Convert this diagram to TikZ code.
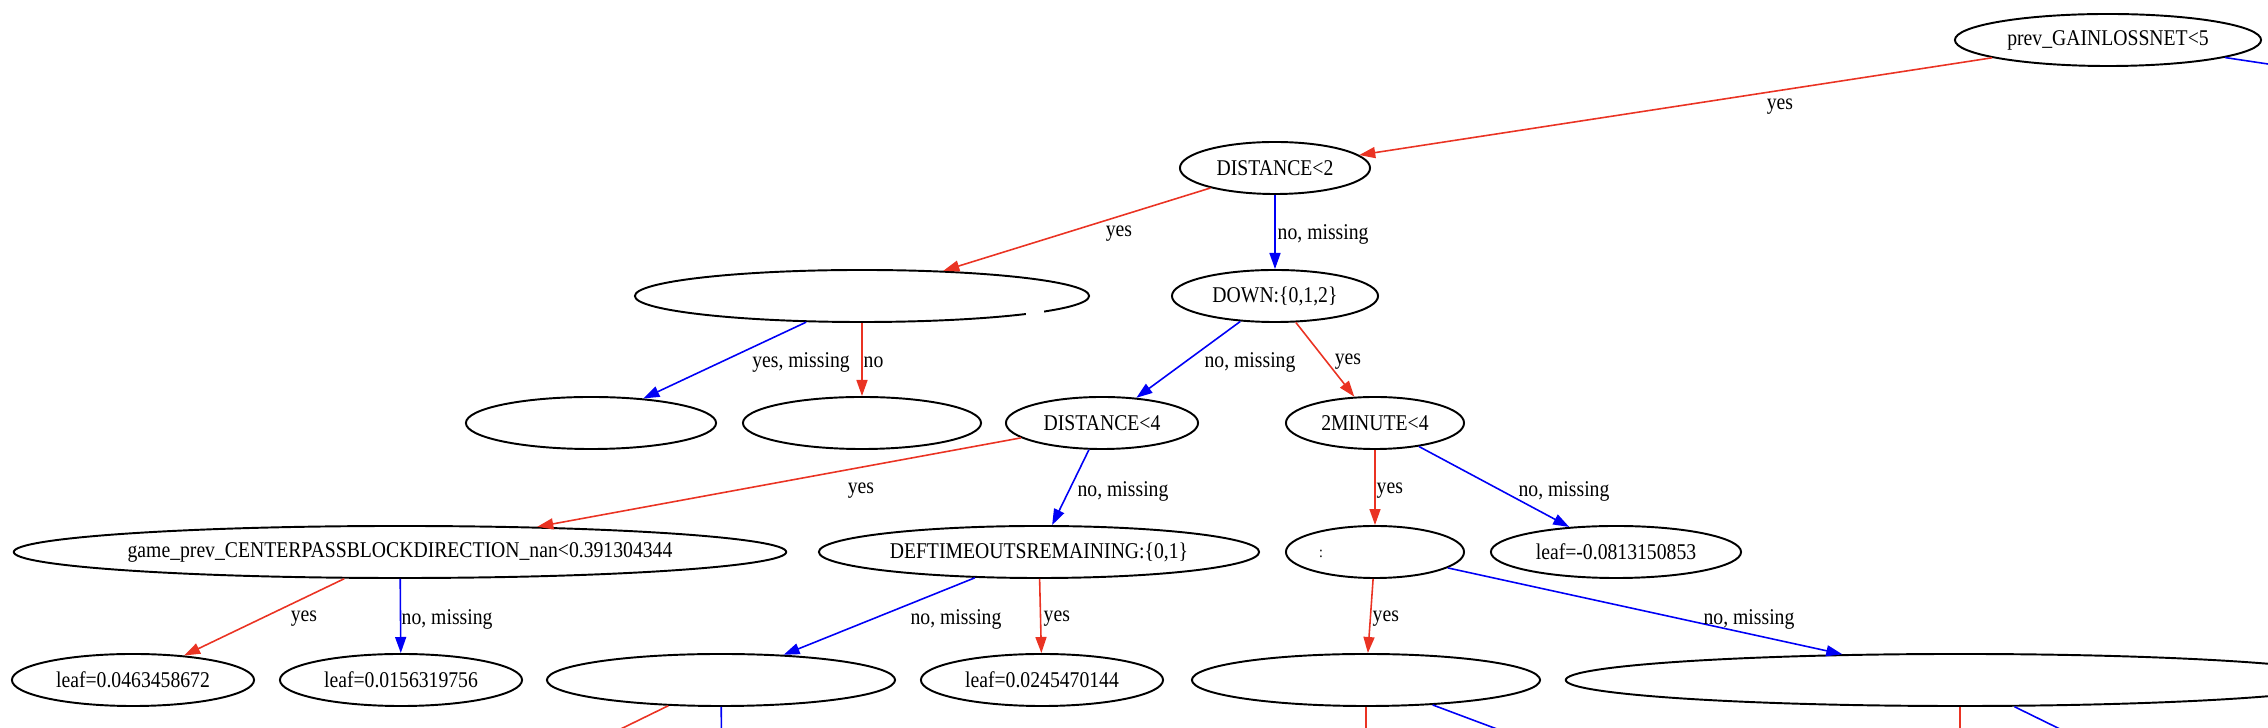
\documentclass[tikz,border=0pt]{standalone}
\usepackage{fontspec}
\setmainfont{Liberation Serif}[FakeStretch=0.875]
\usepackage{xcolor}
\usetikzlibrary{arrows.meta, shapes.geometric}
\definecolor{yesred}{RGB}{234,51,35}
\definecolor{noblue}{RGB}{0,0,245}

\begin{document}
\begin{tikzpicture}[x=0.01cm, y=-0.01cm, >={Triangle[length=1.6mm, width=1.1mm]},
    font=\fontsize{6.4}{7.6}\selectfont,
    split/.style={draw, ellipse, line width=0.55pt, inner sep=0pt, minimum height=0.52cm},
    yesedge/.style={->, yesred, line width=0.45pt},
    noedge/.style={->, noblue, line width=0.45pt},
    lbl/.style={inner sep=0pt}]

\useasboundingbox (0,0) rectangle (2268,728);
\clip (0,0) rectangle (2268,728);

% ── Level 0: root ────────────────────────────────────────────────
\node[split, minimum width=3.06cm] (root) at (2108,40) {prev\_GAINLOSSNET<5};

% ── Level 1 ──────────────────────────────────────────────────────
\node[split, minimum width=1.90cm] (dist2) at (1275,168) {DISTANCE<2};
\coordinate (rootno) at (2961,168);

\draw[yesedge] (root) -- (dist2);
\draw[noedge] (root) -- (rootno);
\node[lbl] (l01) at (1780,107) {yes};

% ── Level 2 ──────────────────────────────────────────────────────
\node[split, minimum width=4.54cm] (blankA) at (862,296) {};
\node[split, minimum width=2.06cm] (down) at (1275,296) {DOWN:\{0,1,2\}};
\fill[white] (1026,307) rectangle (1044,319);

\draw[yesedge] (dist2) -- (blankA);
\draw[noedge] (dist2) -- (down);
\node[lbl] (l11) at (1119,234) {yes};
\node[lbl, anchor=west] (l12) at (1277,234) {no, missing};

% ── Level 3 ──────────────────────────────────────────────────────
\node[split, minimum width=2.50cm] (blankB) at (591,423) {};
\node[split, minimum width=2.38cm] (blankC) at (862,423) {};
\node[split, minimum width=1.92cm] (dist4) at (1102,423) {DISTANCE<4};
\node[split, minimum width=1.78cm] (twomin) at (1375,423) {2MINUTE<4};

\draw[noedge] (blankA) -- (blankB);
\draw[yesedge] (blankA) -- (blankC);
\draw[noedge] (down) -- (dist4);
\draw[yesedge] (down) -- (twomin);
\node[lbl] (l21) at (801,362) {yes, missing};
\node[lbl, anchor=west] (l22) at (863,362) {no};
\node[lbl] (l23) at (1250,362) {no, missing};
\node[lbl] (l24) at (1348,362) {yes};

% ── Level 4 ──────────────────────────────────────────────────────
\node[split, minimum width=7.72cm] (game) at (400,552) {game\_prev\_CENTERPASSBLOCKDIRECTION\_nan<0.391304344};
\node[split, minimum width=4.40cm] (deftime) at (1039,552) {DEFTIMEOUTSREMAINING:\{0,1\}};
\node[split, minimum width=1.78cm] (colon) at (1375,552) {};
\node[lbl, font=\fontsize{4.5}{5}\selectfont] (colontxt) at (1321,554) {:};
\node[split, minimum width=2.50cm] (leafneg) at (1616,552) {leaf=-0.0813150853};

\draw[yesedge] (dist4) -- (game);
\draw[noedge] (dist4) -- (deftime);
\draw[yesedge] (twomin) -- (colon);
\draw[noedge] (twomin) -- (leafneg);
\node[lbl] (l31) at (861,491) {yes};
\node[lbl] (l32) at (1123,491) {no, missing};
\node[lbl, anchor=west] (l33) at (1376,491) {yes};
\node[lbl] (l34) at (1564,491) {no, missing};

% ── Level 5 ──────────────────────────────────────────────────────
\node[split, minimum width=2.42cm] (leafa) at (133,680) {leaf=0.0463458672};
\node[split, minimum width=2.42cm] (leafb) at (401,680) {leaf=0.0156319756};
\node[split, minimum width=3.48cm] (blankD) at (721,680) {};
\node[split, minimum width=2.42cm] (leafc) at (1042,680) {leaf=0.0245470144};
\node[split, minimum width=3.48cm] (blankE) at (1366,680) {};
\node[split, minimum width=7.88cm] (blankF) at (1960,680) {};

\draw[yesedge] (game) -- (leafa);
\draw[noedge] (game) -- (leafb);
\draw[noedge] (deftime) -- (blankD);
\draw[yesedge] (deftime) -- (leafc);
\draw[yesedge] (colon) -- (blankE);
\draw[noedge] (colon) -- (blankF);
\node[lbl] (l41) at (304,619) {yes};
\node[lbl, anchor=west] (l42) at (401,619) {no, missing};
\node[lbl] (l43) at (956,619) {no, missing};
\node[lbl, anchor=west] (l44) at (1043,619) {yes};
\node[lbl, anchor=west] (l45) at (1372,619) {yes};
\node[lbl] (l46) at (1749,619) {no, missing};

% ── Level 6 (below the page) ─────────────────────────────────────
\coordinate (dyes) at (459,808);
\coordinate (dno) at (722,808);
\coordinate (eyes) at (1366,808);
\coordinate (eno) at (1708,808);
\coordinate (fyes) at (1960,808);
\coordinate (fno) at (2221,808);

\draw[yesedge] (blankD) -- (dyes);
\draw[noedge] (blankD) -- (dno);
\draw[yesedge] (blankE) -- (eyes);
\draw[noedge] (blankE) -- (eno);
\draw[yesedge] (blankF) -- (fyes);
\draw[noedge] (blankF) -- (fno);

\end{tikzpicture}
\end{document}
